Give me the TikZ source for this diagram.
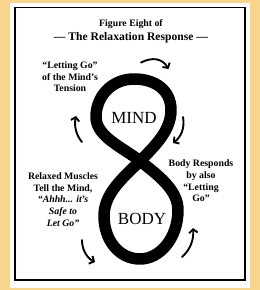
\documentclass[tikz,border=0pt]{standalone}
\usepackage{fontspec}
\setmainfont{Liberation Serif}
\usetikzlibrary{arrows.meta}
\definecolor{frameorange}{RGB}{249,212,140}
\tikzset{
  label/.style={font=\fontsize{9.8}{11.6}\selectfont\bfseries, align=center, inner sep=0pt},
  bigword/.style={font=\fontsize{17}{20}\selectfont, inner sep=0pt},
  flow/.style={line width=1.9pt, line cap=round, -{Straight Barb[length=3.6pt,width=8.5pt,line width=1.9pt]}},
  eightstroke/.style={line width=11.5pt, line join=round}
}
\begin{document}
\begin{tikzpicture}[x=1pt,y=-1pt]
\useasboundingbox (0,0) rectangle (260,290);
\fill[frameorange] (0,0) rectangle (260,290);
\fill[white] (10,3) rectangle (250,288);
\draw[line width=1.4pt] (15,7.5) rectangle (245,280);

% title
\node[inner sep=0pt, font=\fontsize{9.8}{12}\selectfont\bfseries] (t1) at (131,24) {Figure Eight of};
\node[inner sep=0pt, font=\fontsize{11.6}{14}\selectfont\bfseries] (t2) at (131,37.5) {— The Relaxation Response —};

% figure eight
\coordinate (C) at (140,161);
\draw[eightstroke]
  (C) .. controls (156,145) and (171,130) .. (171,110)
      .. controls (171,90) and (155,79) .. (134,79)
      .. controls (112,79) and (96,96) .. (96,117)
      .. controls (96,137) and (124,148) .. (C)
      .. controls (158,175) and (178,190) .. (178,210)
      .. controls (178,238) and (160,259) .. (140,259)
      .. controls (119,259) and (104,240) .. (104,216)
      .. controls (104,193) and (124,177) .. (C) -- cycle;

\node[bigword] (mind) at (134,117.5) {MIND};
\node[bigword] (body) at (142,218.5) {BODY};

% labels
\node[label] (lt) at (70,77) {“Letting Go”\\of the Mind’s\\Tension};
\node[label] (lb) at (63,199.5) {Relaxed Muscles\\Tell the Mind,\\\itshape “Ahhh... it’s\\\itshape Safe to\\\itshape Let Go”};
\node[label] (rb) at (201,181) {Body Responds\\by also\\“Letting\\Go”};

% flow arrows
\coordinate (a1s) at (141,62.5);  \coordinate (a1e) at (168.5,69);
\coordinate (a2s) at (183,117);   \coordinate (a2e) at (173,143);
\coordinate (a3s) at (82,142);    \coordinate (a3e) at (76,116);
\coordinate (a4s) at (82,240);    \coordinate (a4e) at (95,262);
\coordinate (a5s) at (182,257);   \coordinate (a5e) at (193,228);
\draw[flow] (a1s) .. controls (152,57) and (162,58) .. (a1e);
\draw[flow] (a2s) .. controls (185,128) and (181,137) .. (a2e);
\draw[flow] (a3s) .. controls (76,135) and (74,126) .. (a3e);
\draw[flow] (a4s) .. controls (82,250) and (87,258) .. (a4e);
\draw[flow] (a5s) .. controls (190,250) and (194,240) .. (a5e);
\end{tikzpicture}
\end{document}
